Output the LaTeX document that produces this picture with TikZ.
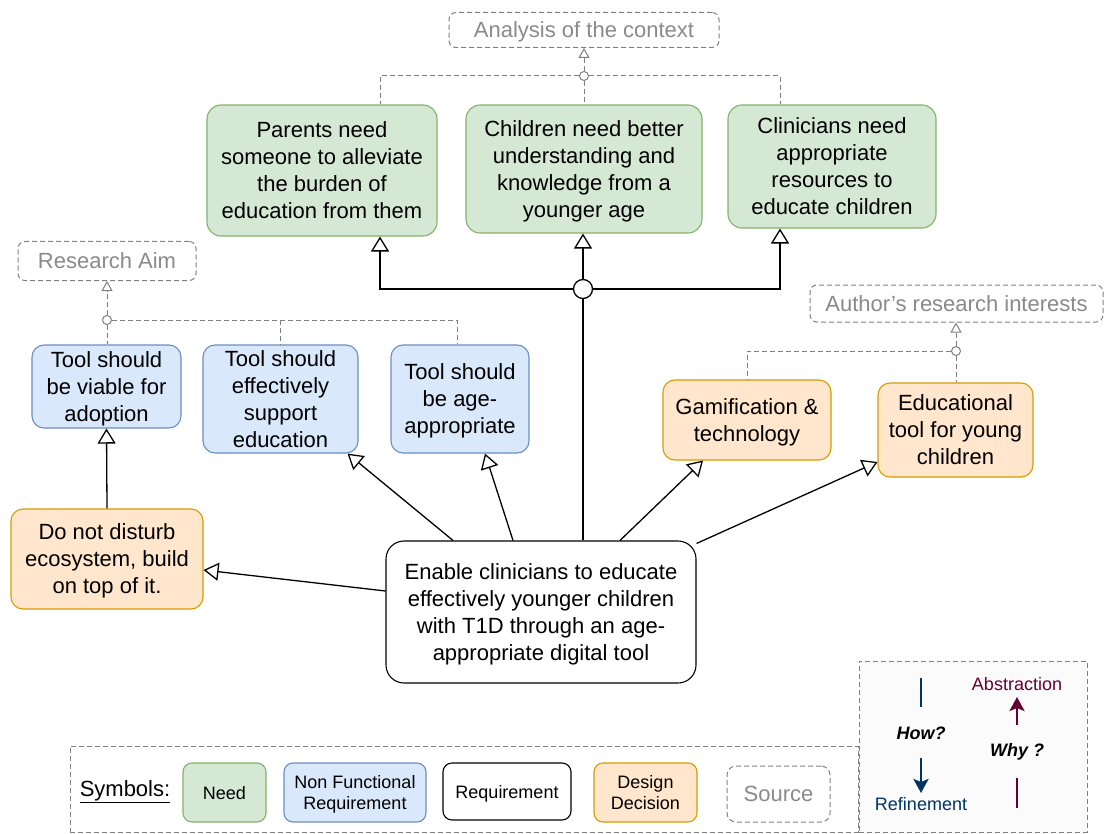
\documentclass[tikz,border=0pt]{standalone}
\usepackage{fontspec}
\setmainfont{Liberation Sans}
\usetikzlibrary{arrows.meta}
\definecolor{needfill}{HTML}{D5E8D4}
\definecolor{needdraw}{HTML}{82B366}
\definecolor{nfrfill}{HTML}{DAE8FC}
\definecolor{nfrdraw}{HTML}{6C8EBF}
\definecolor{ddfill}{HTML}{FFE6CC}
\definecolor{dddraw}{HTML}{D79B00}
\definecolor{srcline}{HTML}{808080}
\definecolor{srctext}{HTML}{8A8A8A}
\definecolor{refblue}{HTML}{003366}
\definecolor{absred}{HTML}{660033}
\definecolor{panelbg}{HTML}{FBFBFB}
\tikzset{
  box/.style={draw, rounded corners=14pt, align=center, inner sep=0pt,
    line width=1.1pt, text depth=-2pt, font=\fontsize{22}{27}\selectfont},
  need/.style={box, fill=needfill, draw=needdraw},
  nfr/.style={box, fill=nfrfill, draw=nfrdraw, rounded corners=12pt},
  req/.style={box, fill=white, draw=black, rounded corners=18pt},
  dd/.style={box, fill=ddfill, draw=dddraw, rounded corners=12pt},
  src/.style={draw=srcline, dash pattern=on 5pt off 3pt, rounded corners=7pt,
    align=center, inner sep=0pt, line width=1pt, text=srctext, text depth=-2pt,
    font=\fontsize{22}{27}\selectfont},
  legend/.style={font=\fontsize{18}{21}\selectfont, rounded corners=9pt},
  conn/.style={line width=1.3pt, -{Triangle[open, length=15pt, width=18pt]}},
  srcconn/.style={draw=srcline, dash pattern=on 5pt off 3pt, line width=1pt},
  srcarrow/.style={srcconn, -{Triangle[open, length=10pt, width=11pt, line width=1pt]}},
  smallcirc/.style={circle, draw=srcline, fill=white, line width=1pt,
    minimum size=9pt, inner sep=0pt},
  bigcirc/.style={circle, draw=black, fill=white, line width=1.3pt,
    minimum size=19pt, inner sep=0pt},
  hwtext/.style={font=\fontsize{18}{21}\selectfont\bfseries\itshape},
}
\begin{document}
\begin{tikzpicture}[x=1pt, y=-1pt]
\useasboundingbox[fill=white] (0,0) rectangle (1105,834);

% sources
\node[src, minimum width=270pt, minimum height=35pt] (anal) at (584,30) {Analysis of the context};
\node[src, minimum width=178pt, minimum height=39pt] (aim) at (107,261) {Research Aim};
\node[src, minimum width=293pt, minimum height=37pt] (auth) at (956.5,303.5) {Author’s research interests};

% needs
\node[need, minimum width=230pt, minimum height=131pt] (parents) at (322,170.5)
  {Parents need\\someone to alleviate\\the burden of\\education from them};
\node[need, minimum width=236pt, minimum height=128pt] (children) at (584,169)
  {Children need better\\understanding and\\knowledge from a\\younger age};
\node[need, minimum width=208pt, minimum height=123pt] (clin) at (832,166.5)
  {Clinicians need\\appropriate\\resources to\\educate children};

% non functional requirements
\node[nfr, minimum width=149pt, minimum height=83pt] (viable) at (106.5,386.5)
  {Tool should\\be viable for\\adoption};
\node[nfr, minimum width=155pt, minimum height=108pt] (effective) at (280.5,399)
  {Tool should\\effectively\\support\\education};
\node[nfr, minimum width=138pt, minimum height=108pt] (age) at (460,399)
  {Tool should\\be age-\\appropriate};

% design decisions
\node[dd, minimum width=192pt, minimum height=100pt] (disturb) at (107,559)
  {Do not disturb\\ecosystem, build\\on top of it.};
\node[dd, minimum width=168pt, minimum height=80pt] (gam) at (747,420)
  {Gamification \&\\technology};
\node[dd, minimum width=155pt, minimum height=94pt] (educ) at (955.5,430)
  {Educational\\tool for young\\children};

% requirement
\node[req, minimum width=310pt, minimum height=142pt] (enable) at (541,612)
  {Enable clinicians to educate\\effectively younger children\\with T1D through an age-\\appropriate digital tool};

% refinement of the requirement into needs
\node[bigcirc] (junc) at (583,289) {};
\draw[line width=1.3pt] ([xshift=42pt]enable.north) -- (junc.south);
\draw[conn] (junc.west) -| ([xshift=58pt]parents.south);
\draw[conn] (junc.north) -- (junc.north |- children.south);
\draw[conn] (junc.east) -| ([xshift=-52pt]clin.south);

% requirement to non functional requirements and design decisions
\draw[conn] ([xshift=-88pt]enable.north) -- ([xshift=67pt]effective.south);
\draw[conn] ([xshift=-28pt]enable.north) -- ([xshift=25pt]age.south);
\draw[conn] ([xshift=79pt]enable.north) -- ([xshift=-44pt]gam.south);
\draw[conn] ([yshift=-3pt]enable.north east) -- ([yshift=-32pt]educ.west);
\draw[conn] ([yshift=21pt]enable.west) -- ([yshift=-11pt]disturb.east);
\draw[conn] (disturb.north) -- (viable.south);

% needs traced to the context analysis
\node[smallcirc] (c1) at (584,76) {};
\draw[srcconn] (c1.west) -| ([xshift=58pt]parents.north);
\draw[srcconn] (c1.south) -- (c1.south |- children.north);
\draw[srcconn] (c1.east) -| ([xshift=-52pt]clin.north);
\draw[srcarrow] (c1.north) -- (c1.north |- anal.south);

% non functional requirements traced to the research aim
\node[smallcirc] (c2) at (107,320) {};
\draw[srcarrow] (c2.north) -- (c2.north |- aim.south);
\draw[srcconn] (c2.south) -- (c2.south |- viable.north);
\draw[srcconn] (c2.east) -| (effective.north);
\draw[srcconn] (c2.east) -| ([xshift=-3pt]age.north);

% design decisions traced to the author's interests
\node[smallcirc] (c3) at (956,351) {};
\draw[srcarrow] (c3.north) -- (c3.north |- auth.south);
\draw[srcconn] (c3.south) -- (c3.south |- educ.north);
\draw[srcconn] (c3.west) -| (gam.north);

% legend
\node[draw=srcline, dash pattern=on 5pt off 3pt, line width=1pt, minimum width=788pt,
  minimum height=86pt, inner sep=0pt] (legendframe) at (464,789) {};
\node[font=\fontsize{22}{27}\selectfont] (symbols) at (125,792) {\underline{Symbols:}};
\node[need, legend, minimum width=83pt, minimum height=59pt] (lneed) at (224.5,792.5) {Need};
\node[nfr, legend, minimum width=142pt, minimum height=59pt] (lnfr) at (355,792.5) {Non Functional\\Requirement};
\node[req, legend, minimum width=128pt, minimum height=57pt] (lreq) at (507,791.5) {Requirement};
\node[dd, legend, minimum width=103pt, minimum height=59pt] (ldd) at (645.5,792.5) {Design\\Decision};
\node[src, minimum width=103pt, minimum height=56pt, rounded corners=9pt] (lsrc) at (778.5,794) {Source};

% how / why panel
\node[draw=srcline, fill=panelbg, dash pattern=on 5pt off 3pt, line width=1pt,
  minimum width=228pt, minimum height=171pt, inner sep=0pt] (panel) at (973,746.5) {};
\coordinate (howtop) at (921,678);
\coordinate (howtopend) at (921,707);
\coordinate (howfrom) at (921,758);
\coordinate (howto) at (921,793);
\node[hwtext] (how) at (921,733) {How?};
\node[font=\fontsize{18}{21}\selectfont, text=refblue] (refine) at (921,804) {Refinement};
\draw[refblue, line width=2.6pt] (howtop) -- (howtopend);
\draw[refblue, line width=2.6pt, -{Stealth[length=14pt, width=15pt, inset=3pt]}] (howfrom) -- (howto);
\coordinate (whyfrom) at (1017,725);
\coordinate (whyto) at (1017,697);
\coordinate (whybot) at (1017,778);
\coordinate (whybotend) at (1017,808);
\node[font=\fontsize{18}{21}\selectfont, text=absred] (abstr) at (1017,684) {Abstraction};
\node[hwtext] (why) at (1017,752) {Why ?};
\draw[absred, line width=2.6pt, -{Stealth[length=14pt, width=15pt, inset=3pt]}] (whyfrom) -- (whyto);
\draw[absred, line width=2.6pt] (whybot) -- (whybotend);
\end{tikzpicture}
\end{document}
